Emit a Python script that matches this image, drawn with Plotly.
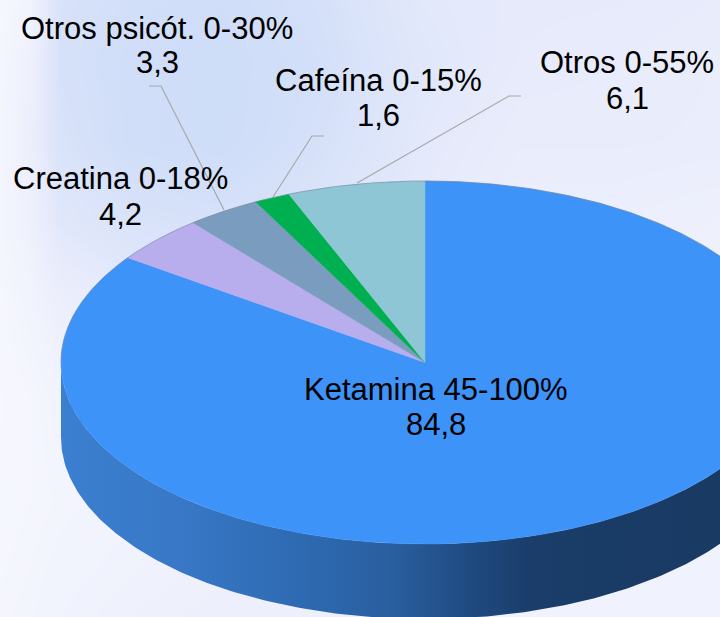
import numpy as np
import plotly.graph_objects as go

# Data
categories = ["Ketamina 45-100%", "Creatina 0-18%", "Otros psicót. 0-30%", "Cafeína 0-15%", "Otros 0-55%"]
values = [84.8, 4.2, 3.3, 1.6, 6.1]
colors = ["#3d93f7", "#b8aeee", "#7a9cbf", "#00b050", "#8ec6d6"]

# Background wash (estimated tint level, 0 = near white, 1 = light blue)
bg_x = [-20, 30, 60, 130, 220, 320, 420, 520, 620, 740]
bg_y = [-20, 60, 140, 220, 300, 400, 500, 640]
bg_z = [
    [0.05, 0.20, 0.75, 0.85, 0.90, 0.80, 0.55, 0.50, 0.50, 0.45],
    [0.05, 0.30, 0.80, 0.90, 0.95, 0.85, 0.60, 0.48, 0.45, 0.40],
    [0.05, 0.35, 0.75, 0.90, 0.95, 0.80, 0.55, 0.42, 0.42, 0.40],
    [0.08, 0.30, 0.60, 0.75, 0.80, 0.70, 0.50, 0.35, 0.35, 0.30],
    [0.08, 0.22, 0.35, 0.50, 0.60, 0.50, 0.40, 0.30, 0.30, 0.28],
    [0.08, 0.15, 0.22, 0.30, 0.30, 0.30, 0.30, 0.25, 0.25, 0.25],
    [0.10, 0.15, 0.18, 0.22, 0.25, 0.25, 0.25, 0.25, 0.25, 0.25],
    [0.15, 0.20, 0.25, 0.30, 0.35, 0.35, 0.30, 0.25, 0.25, 0.25],
]

# Layout of the drawing (pixel-aligned axes)
W, H = 720, 617
CX, CY, RX, RY, DEPTH = 425.0, 362.5, 364.0, 181.5, 75.0

label_pos = {
    "Ketamina 45-100%": (436, 389, 424),
    "Creatina 0-18%": (120, 178, 214),
    "Otros psicót. 0-30%": (157, 28, 62),
    "Cafeína 0-15%": (378, 80, 115),
    "Otros 0-55%": (627, 62, 98),
}
leaders = [
    ([149, 161, 224], [86, 86, 210]),
    ([324, 312, 273], [136, 136, 197]),
    ([521, 509, 357], [96, 96, 183]),
]


def ell(deg, dy=0.0):
    t = np.radians(deg)
    return CX + RX * np.sin(t), CY - RY * np.cos(t) + dy


fig = go.Figure()
fig.add_trace(go.Heatmap(
    x=bg_x, y=bg_y, z=bg_z, zsmooth="best", showscale=False, hoverinfo="skip", zmin=0, zmax=1,
    colorscale=[[0, "#fbfcff"], [0.3, "#eef0fc"], [0.5, "#e6eafb"], [1, "#cbdbf8"]],
))

# Side wall of the disc
arc = np.linspace(90, 270, 241)
tx, ty = ell(arc)
bx, by = ell(arc[::-1], DEPTH)
fig.add_trace(go.Scatter(
    x=np.concatenate([tx, bx]), y=np.concatenate([ty, by]), mode="lines",
    fill="toself", line=dict(width=0, color="rgba(0,0,0,0)"), hoverinfo="skip",
    fillgradient=dict(type="horizontal", start=61, stop=720, colorscale=[
        [0, "#3b7fd0"], [0.18, "#3878c6"], [0.36, "#2e6ab2"], [0.5, "#2a5f9f"],
        [0.62, "#1f4a80"], [0.72, "#1a3d69"], [1, "#183a63"]]),
))

# Top face: one slice per value, clockwise from 12 o'clock
start = 0.0
total = sum(values)
for cat, val, col in zip(categories, values, colors):
    sweep = 360.0 * val / total
    ang = np.linspace(start, start + sweep, max(3, int(sweep * 2)))
    ax, ay = ell(ang)
    fig.add_trace(go.Scatter(
        x=np.concatenate([[CX], ax, [CX]]), y=np.concatenate([[CY], ay, [CY]]),
        mode="lines", fill="toself", fillcolor=col, line=dict(width=0.5, color=col),
        name=cat, hovertext=f"{cat}: {val}", hoverinfo="text",
    ))
    start += sweep

# Faint rim on the upper edge
rim = np.linspace(-90, 90, 241)
rx, ry = ell(rim)
fig.add_trace(go.Scatter(x=rx, y=ry, mode="lines", line=dict(width=1, color="rgba(120,130,150,0.55)"), hoverinfo="skip"))

for lx, ly in leaders:
    fig.add_trace(go.Scatter(x=lx, y=ly, mode="lines", line=dict(width=1.2, color="#a8a8a8"), hoverinfo="skip"))

for cat, val in zip(categories, values):
    px, y1, y2 = label_pos[cat]
    for txt, yy in ((cat, y1), (f"{val}".replace(".", ","), y2)):
        fig.add_annotation(x=px, y=yy, text=txt, showarrow=False, xanchor="center", yanchor="middle",
                           font=dict(family="Liberation Sans", size=31, color="#000000"))

fig.update_layout(
    width=W, height=H, margin=dict(l=0, r=0, t=0, b=0), showlegend=False,
    paper_bgcolor="#eef0fc", plot_bgcolor="#eef0fc",
    xaxis=dict(range=[0, W], visible=False, fixedrange=True),
    yaxis=dict(range=[H, 0], visible=False, fixedrange=True),
)
fig.write_html("out.html", config={"displayModeBar": False},
               post_script="document.body.style.margin='0';document.documentElement.style.overflow='hidden';")
